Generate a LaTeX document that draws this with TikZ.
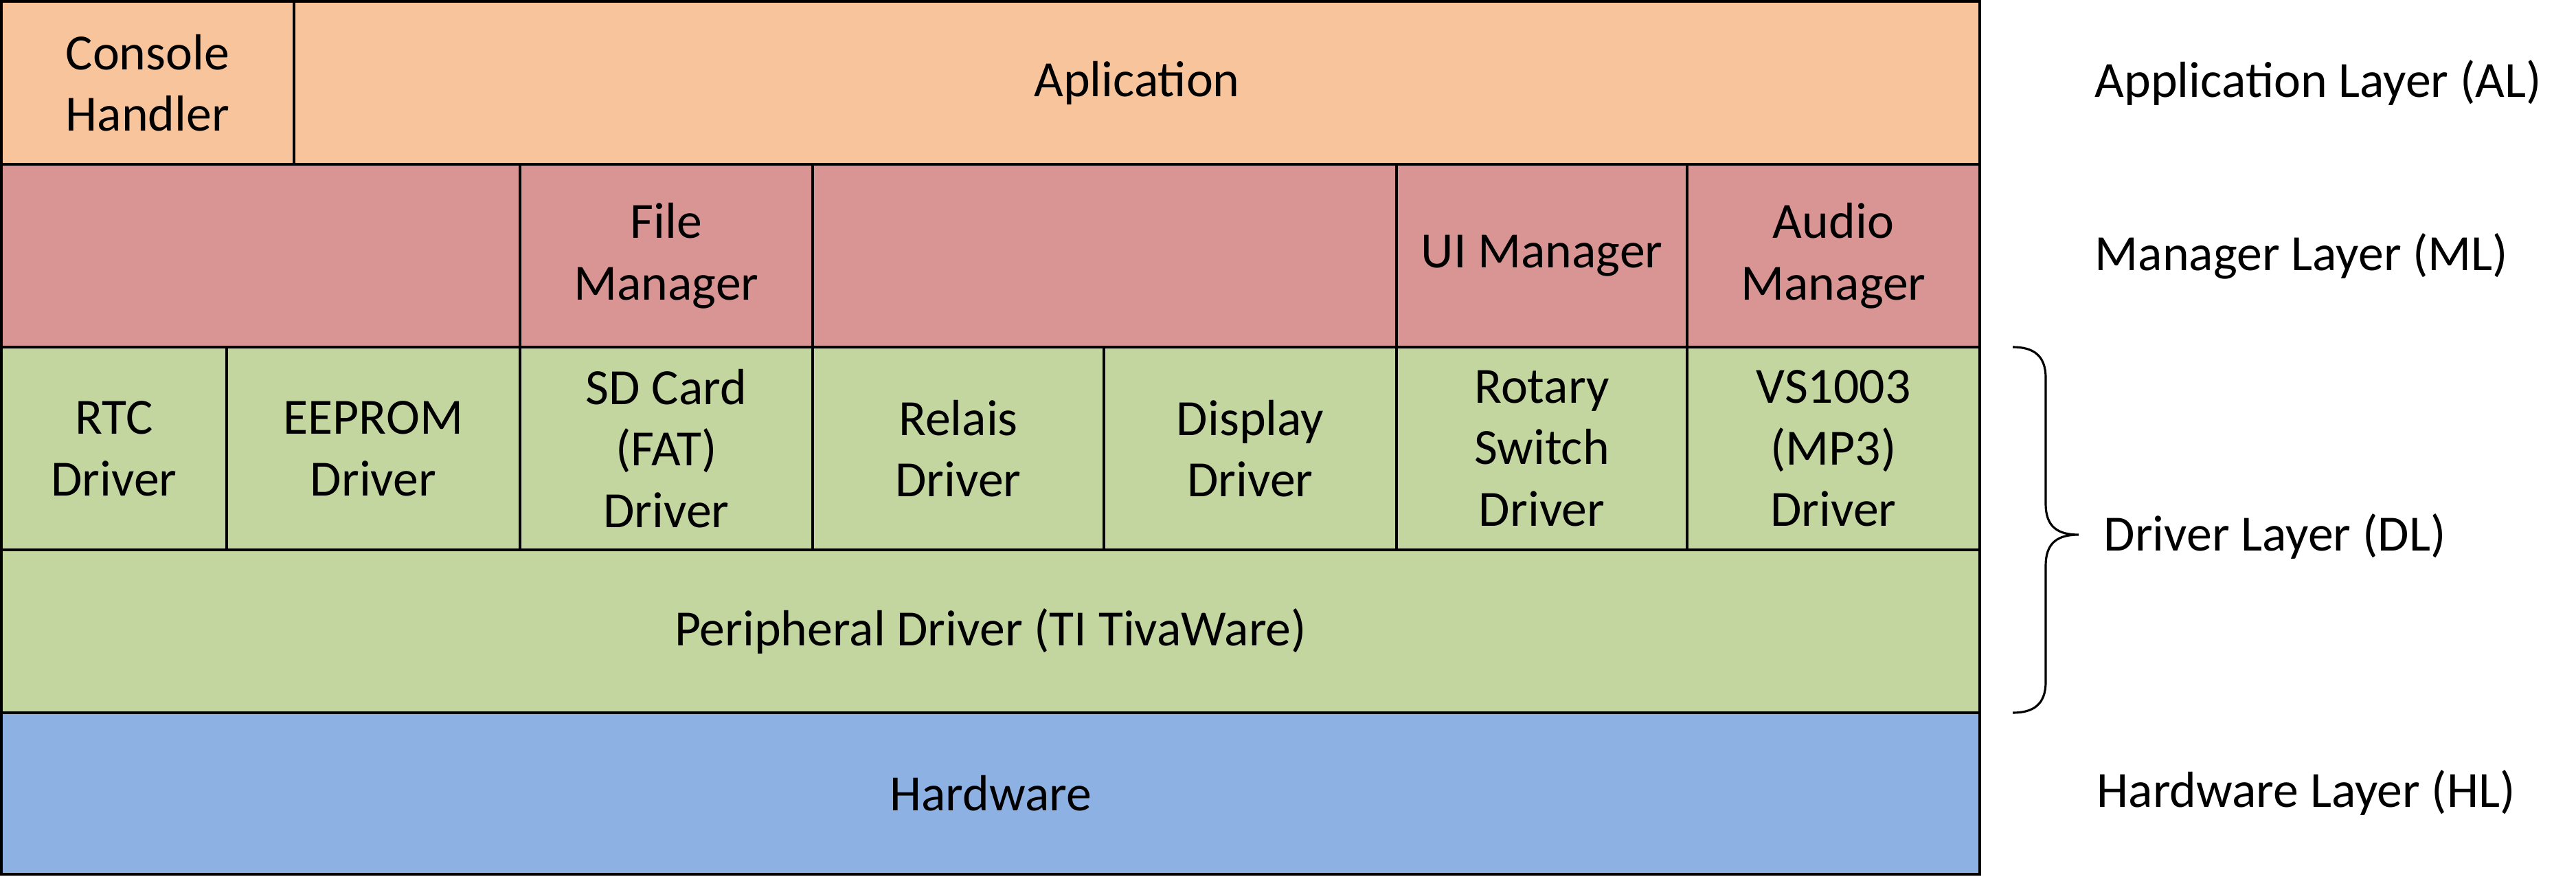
\documentclass[tikz,border=0pt]{standalone}
\usepackage{fontspec}
\setmainfont{Carlito}
\usepackage{tikz}
\usetikzlibrary{shapes,positioning}

\definecolor{alcol}{HTML}{F8C49B}
\definecolor{mlcol}{HTML}{D99594}
\definecolor{dlcol}{HTML}{C3D69F}
\definecolor{hlcol}{HTML}{8EB1E3}

\begin{document}
\begin{tikzpicture}[font=\fontsize{21}{25.5}\selectfont,
    cell/.style={draw, rectangle, line width=0.9pt, inner sep=0pt, align=center},
    layer/.style={anchor=west, inner sep=0pt}]
        \useasboundingbox (0,0) rectangle (37.5,12.75);

        % Application layer
        \node[cell, fill=alcol, minimum width=4.26cm, minimum height=2.37cm] (con) at (2.15,11.545) {Console\\Handler};
        \node[cell, fill=alcol, minimum width=24.54cm, minimum height=2.37cm] (app) at (16.55,11.545) {Aplication};

        % Manager layer
        \node[cell, fill=mlcol, minimum width=7.55cm, minimum height=2.66cm] (mgra) at (3.795,9.03) {};
        \node[cell, fill=mlcol, minimum width=4.26cm, minimum height=2.66cm] (filemgr) at (9.70,9.03) {File\\Manager};
        \node[cell, fill=mlcol, minimum width=8.50cm, minimum height=2.66cm] (mgrb) at (16.08,9.03) {};
        \node[cell, fill=mlcol, minimum width=4.23cm, minimum height=2.66cm] (uimgr) at (22.445,9.03) {UI Manager};
        \node[cell, fill=mlcol, minimum width=4.26cm, minimum height=2.66cm] (audiomgr) at (26.69,9.03) {Audio\\Manager};

        % Driver layer
        \node[cell, fill=dlcol, minimum width=3.28cm, minimum height=2.95cm] (rtc) at (1.66,6.225) {RTC\\Driver};
        \node[cell, fill=dlcol, minimum width=4.27cm, minimum height=2.95cm] (eeprom) at (5.435,6.225) {EEPROM\\Driver};
        \node[cell, fill=dlcol, minimum width=4.26cm, minimum height=2.95cm] (sdcard) at (9.70,6.225) {SD Card\\(FAT)\\Driver};
        \node[cell, fill=dlcol, minimum width=4.24cm, minimum height=2.95cm] (relais) at (13.95,6.225) {Relais\\Driver};
        \node[cell, fill=dlcol, minimum width=4.26cm, minimum height=2.95cm] (display) at (18.20,6.225) {Display\\Driver};
        \node[cell, fill=dlcol, minimum width=4.23cm, minimum height=2.95cm] (rotary) at (22.445,6.225) {Rotary\\Switch\\Driver};
        \node[cell, fill=dlcol, minimum width=4.26cm, minimum height=2.95cm] (vsdrv) at (26.69,6.225) {VS1003\\(MP3)\\Driver};
        \node[cell, fill=dlcol, minimum width=28.80cm, minimum height=2.37cm] (periph) at (14.42,3.565) {Peripheral Driver (TI TivaWare)};

        % Hardware layer
        \node[cell, fill=hlcol, minimum width=28.80cm, minimum height=2.35cm] (hw) at (14.42,1.205) {Hardware};

        % Layer names
        \node[layer] (allabel) at (30.49,11.55) {Application Layer (AL)};
        \node[layer] (mllabel) at (30.49,9.02) {Manager Layer (ML)};
        \node[layer] (dllabel) at (30.62,4.95) {Driver Layer (DL)};
        \node[layer] (hllabel) at (30.52,1.22) {Hardware Layer (HL)};

        % Brace round the driver layer
        \coordinate (bracetop) at (29.30,7.70);
        \coordinate (bracetip) at (30.26,4.97);
        \coordinate (bracebot) at (29.30,2.38);
        \draw[line width=0.9pt] (bracetop) .. controls (29.60,7.70) and (29.78,7.58) .. (29.78,7.25)
            -- (29.78,5.42) .. controls (29.78,5.08) and (29.96,4.97) .. (bracetip)
            .. controls (29.96,4.97) and (29.78,4.86) .. (29.78,4.52)
            -- (29.78,2.83) .. controls (29.78,2.50) and (29.60,2.38) .. (bracebot);
    \end{tikzpicture}
\end{document}
